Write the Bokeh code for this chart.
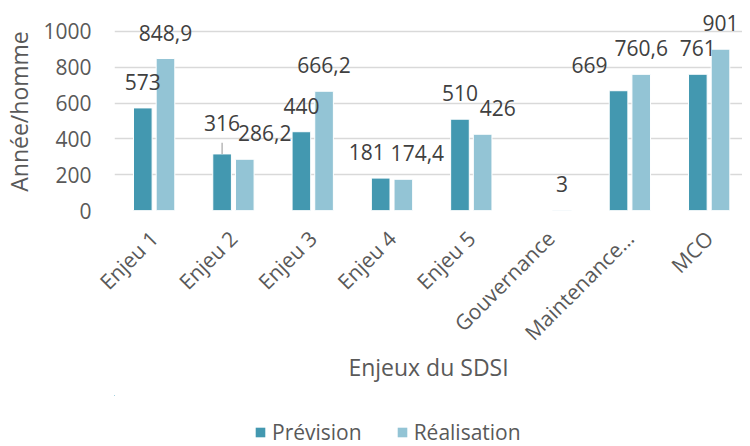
from bokeh.plotting import figure
from bokeh.models import ColumnDataSource, Range1d, FixedTicker, Legend, LegendItem
from bokeh.layouts import column
from bokeh.embed import file_html
from bokeh.resources import INLINE
from bokeh.core.properties import value
import math

# ---- data ----
categories = ["Enjeu 1", "Enjeu 2", "Enjeu 3", "Enjeu 4", "Enjeu 5", "Gouvernance", "Maintenance…", "MCO"]
prevision = [573, 316, 440, 181, 510, None, 669, 761]
realisation = [848.9, 286.2, 666.2, 174.4, 426, 3, 760.6, 901]
y_ticks = [0, 200, 400, 600, 800, 1000]
series_names = ["Prévision", "Réalisation"]

# label nudges (screen px) as in the reference
prev_label_dx = [0, 0, 0, -14, 0, 0, -29, 0]
prev_label_dy = [0, -5, 0, 0, 0, 0, 0, 0]
real_label_dx = [0, 20, 0, 14, 15, 0, 0, 0]
real_label_dy = [0, 0, 0, 0, 0, 0, 0, 0]

C_PREV = "#4398b0"
C_REAL = "#93c4d5"
FONT = "Open Sans"
TICK_COLOR = "#595959"
LABEL_COLOR = "#404040"

def fmt(v):
    if float(v).is_integer():
        return str(int(v))
    return ("%g" % v).replace(".", ",")

PX_PER_CAT = 80.3
FRAME_W = 636
H = 395
TOP = 12
FRAME_H = 198
p = figure(width=742, height=H, output_backend="svg", toolbar_location=None,
           x_range=Range1d(-0.5, -0.5 + FRAME_W / PX_PER_CAT),
           y_range=Range1d(0, 1106),
           min_border_left=106, min_border_right=0, min_border_top=TOP,
           min_border_bottom=H - TOP - FRAME_H)
p.outline_line_color = None
p.background_fill_color = "white"
p.border_fill_color = "white"

OFF = 0.143
W = 0.235

def build(vals, offset, dxs, dys):
    xs, tops, txt, dx, dy = [], [], [], [], []
    for i, v in enumerate(vals):
        if v is None:
            continue
        xs.append(i + offset)
        tops.append(v)
        txt.append(fmt(v))
        dx.append(dxs[i])
        dy.append(-26 + dys[i])
    return ColumnDataSource(dict(x=xs, top=tops, text=txt, dx=dx, dy=dy))

src_p = build(prevision, -OFF, prev_label_dx, prev_label_dy)
src_r = build(realisation, OFF, real_label_dx, real_label_dy)

p.vbar(x="x", top="top", width=W, source=src_p, fill_color=C_PREV, line_color="white", line_width=1)
p.vbar(x="x", top="top", width=W, source=src_r, fill_color=C_REAL, line_color="white", line_width=1)

# leader line for the displaced "316" label
i316 = 1
p.segment(x0=[i316 - OFF], y0=[prevision[i316]], x1=[i316 - OFF], y1=[prevision[i316] + 62],
          line_color="#a6a6a6", line_width=1.2)

for src in (src_p, src_r):
    p.text(x="x", y="top", text="text", x_offset="dx", y_offset="dy", source=src,
           text_align="center", text_baseline="middle", text_font=value(FONT),
           text_font_size="21px", text_color=LABEL_COLOR)

# axes
p.yaxis.ticker = FixedTicker(ticks=y_ticks)
p.ygrid.ticker = FixedTicker(ticks=y_ticks)
p.ygrid.grid_line_color = "#d9d9d9"
p.ygrid.grid_line_width = 1.3
p.xgrid.grid_line_color = None
p.yaxis.axis_line_color = None
p.yaxis.major_tick_line_color = None
p.yaxis.minor_tick_line_color = None
p.yaxis.major_label_standoff = 17
p.yaxis.major_label_text_font = FONT
p.yaxis.major_label_text_font_size = "21px"
p.yaxis.major_label_text_color = TICK_COLOR
p.yaxis.axis_label = "Année/homme"
p.yaxis.axis_label_text_font = FONT
p.yaxis.axis_label_text_font_size = "23px"
p.yaxis.axis_label_text_font_style = "normal"
p.yaxis.axis_label_text_color = TICK_COLOR
p.yaxis.axis_label_standoff = 5

p.xaxis.ticker = FixedTicker(ticks=list(range(len(categories))))
p.xaxis.major_label_overrides = {i: c for i, c in enumerate(categories)}
p.xaxis.axis_line_color = None
p.xaxis.major_tick_line_color = None
p.xaxis.minor_tick_line_color = None
p.xaxis.major_label_orientation = math.pi / 4
p.xaxis.major_label_standoff = 18
p.xaxis.major_label_text_font = FONT
p.xaxis.major_label_text_font_size = "21px"
p.xaxis.major_label_text_color = TICK_COLOR
p.xaxis.axis_label = "Enjeux du SDSI"
p.xaxis.axis_label_text_font = FONT
p.xaxis.axis_label_text_font_size = "23px"
p.xaxis.axis_label_text_font_style = "normal"
p.xaxis.axis_label_text_color = TICK_COLOR
p.xaxis.axis_label_standoff = -8

# legend strip below the chart (its ranges keep the swatch renderers out of view)
leg = figure(width=742, height=51, output_backend="svg", toolbar_location=None,
             x_range=Range1d(100, 101), y_range=Range1d(-2, -1),
             min_border_left=0, min_border_right=0, min_border_top=0, min_border_bottom=0)
leg.axis.visible = False
leg.grid.visible = False
leg.outline_line_color = None
leg.border_fill_color = "white"
leg.background_fill_color = "white"
lr1 = leg.vbar(x="x", top="top", width=W, source=src_p, fill_color=C_PREV, line_color=None)
lr2 = leg.vbar(x="x", top="top", width=W, source=src_r, fill_color=C_REAL, line_color=None)
legend = Legend(items=[LegendItem(label=series_names[0], renderers=[lr1]),
                       LegendItem(label=series_names[1], renderers=[lr2])],
                orientation="horizontal", location=(140, 0),
                label_text_font=FONT, label_text_font_size="21px", label_text_color=TICK_COLOR,
                glyph_width=12, glyph_height=12, spacing=34, padding=0, margin=0,
                label_standoff=6, border_line_color=None, background_fill_alpha=0)
leg.add_layout(legend, "center")

layout = column(p, leg, spacing=0)
open("out.html", "w").write(file_html(layout, INLINE))
